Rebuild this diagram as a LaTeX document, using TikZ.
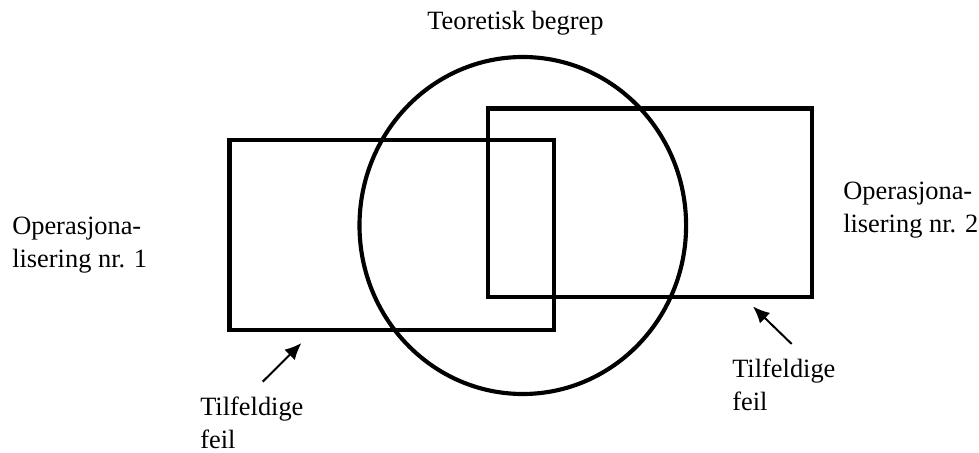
\documentclass[tikz,border=0pt]{standalone}
\usepackage{fontspec}
\setmainfont{Liberation Serif}
\usetikzlibrary{arrows.meta}
\begin{document}
\begin{tikzpicture}[x=0.75pt,y=-0.75pt,
  shapeline/.style={line width=3.1pt},
  lbl/.style={font=\fontsize{19.8}{24.75}\selectfont, inner sep=0pt, align=left, anchor=north west},
  errarrow/.style={line width=1.5pt, -{Latex[length=12.5pt,width=11pt]}}]
\useasboundingbox (0,0) rectangle (979,453);
% shapes
\draw[shapeline] (229.5,140) rectangle (554,330);
\draw[shapeline] (488,108.5) rectangle (812,297);
\draw[shapeline] (522.8,225.5) ellipse [x radius=163.3, y radius=168.5];
% labels
\node[font=\fontsize{19.8}{24.75}\selectfont, inner sep=0pt, anchor=base west] (theory) at (427,30) {Teoretisk begrep};
\node[lbl] (op1) at (12,217) {Operasjona-\\lisering nr. 1};
\node[lbl] (op2) at (843,182) {Operasjona-\\lisering nr. 2};
\node[lbl] (err1) at (200,397) {Tilfeldige\\feil};
\node[lbl] (err2) at (732,359) {Tilfeldige\\feil};
% arrows
\coordinate (a1s) at (262.7,381.7);
\coordinate (a1e) at (301.5,343);
\coordinate (a2s) at (791.7,344);
\coordinate (a2e) at (753,306.5);
\draw[errarrow] (a1s) -- (a1e);
\draw[errarrow] (a2s) -- (a2e);
\end{tikzpicture}
\end{document}
